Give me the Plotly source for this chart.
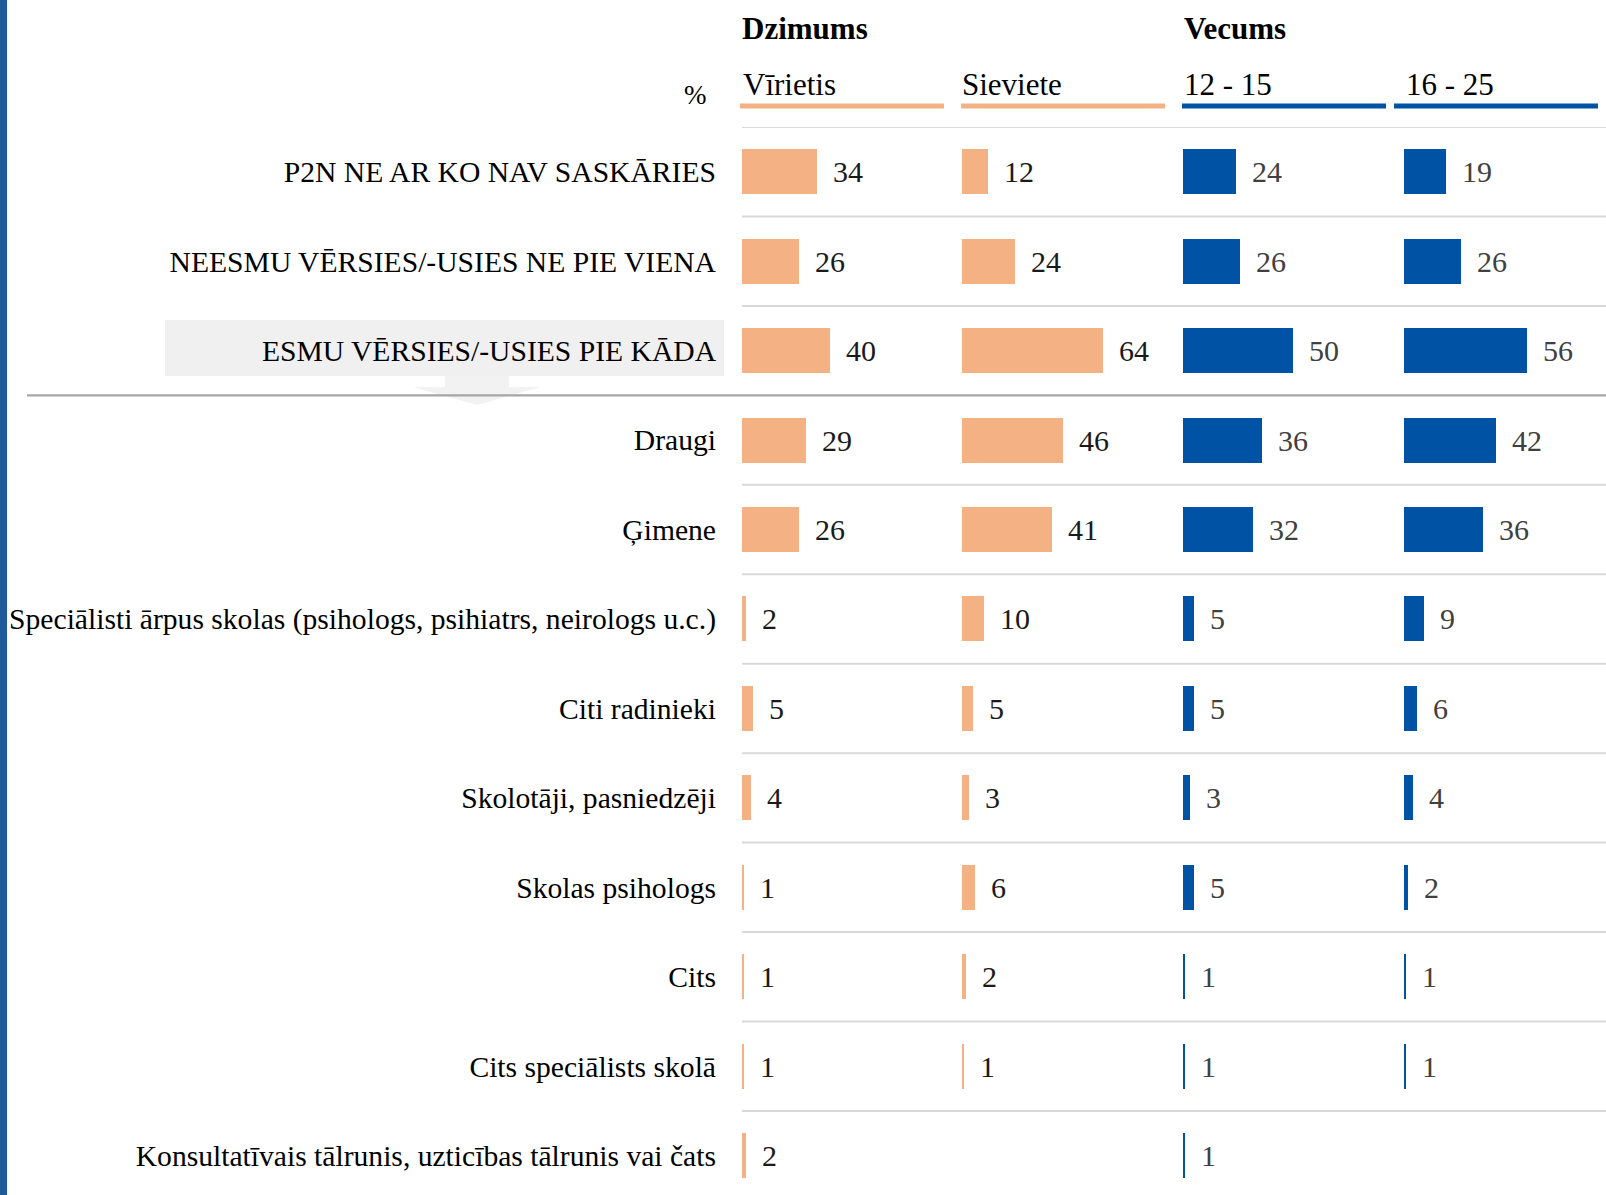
import plotly.graph_objects as go

# ---------------- data ----------------
categories = [
    "P2N NE AR KO NAV SASKĀRIES",
    "NEESMU VĒRSIES/-USIES NE PIE VIENA",
    "ESMU VĒRSIES/-USIES PIE KĀDA",
    "Draugi",
    "Ģimene",
    "Speciālisti ārpus skolas (psihologs, psihiatrs, neirologs u.c.)",
    "Citi radinieki",
    "Skolotāji, pasniedzēji",
    "Skolas psihologs",
    "Cits",
    "Cits speciālists skolā",
    "Konsultatīvais tālrunis, uzticības tālrunis vai čats",
]
virietis = [34, 26, 40, 29, 26, 2, 5, 4, 1, 1, 1, 2]
sieviete = [12, 24, 64, 46, 41, 10, 5, 3, 6, 2, 1, None]
vecums_12_15 = [24, 26, 50, 36, 32, 5, 5, 3, 5, 1, 1, 1]
vecums_16_25 = [19, 26, 56, 42, 36, 9, 6, 4, 2, 1, 1, None]

series_names = ["Vīrietis", "Sieviete", "12 - 15", "16 - 25"]
group_names = ["Dzimums", "Vecums"]
unit_label = "%"

# ---------------- style ----------------
W, H = 1606, 1195
FONT = "Liberation Serif"
ORANGE = "#F4B183"
BLUE = "#0052A5"
col_start_px = [742, 962, 1183, 1404]
PX_PER_UNIT = 2.2
TOP_PX = 127          # top grid line
ROW_PX = 89.45        # row pitch
n = len(categories)

def px_x(p):
    return p / W

def px_y(p):
    return 1 - p / H

series = [virietis, sieviete, vecums_12_15, vecums_16_25]
colors = [ORANGE, ORANGE, BLUE, BLUE]
label_colors = ["#1a1a1a", "#1a1a1a", "#404040", "#404040"]

fig = go.Figure()

y_bottom = -0.5 + (H - TOP_PX) / ROW_PX
y_domain_top = 1 - TOP_PX / H

annotations = []
for k, (vals, col) in enumerate(zip(series, colors)):
    xa = "x" if k == 0 else f"x{k+1}"
    start = col_start_px[k]
    width_px = (col_start_px[k + 1] - start) if k < 3 else (W - start)
    fig.add_trace(go.Bar(
        x=vals, y=categories, orientation="h",
        marker=dict(color=col, line=dict(width=0)),
        width=45 / ROW_PX,
        xaxis=xa, yaxis="y", hoverinfo="skip", showlegend=False,
    ))
    axis_key = "xaxis" if k == 0 else f"xaxis{k+1}"
    fig.update_layout({axis_key: dict(
        domain=[px_x(start), px_x(start + width_px) if k < 3 else 1.0],
        range=[0, width_px / PX_PER_UNIT],
        visible=False, fixedrange=True,
        anchor="y",
    )})
    for c, v in zip(categories, vals):
        if v is None:
            continue
        annotations.append(dict(
            x=v, y=c, xref=xa, yref="y", text=str(v),
            xanchor="left", yanchor="middle", xshift=14, showarrow=False,
            font=dict(family=FONT, size=30, color=label_colors[k]),
        ))

fig.update_layout(
    yaxis=dict(
        domain=[0, y_domain_top],
        categoryorder="array", categoryarray=categories,
        range=[y_bottom, -0.5],
        showgrid=False, zeroline=False, showline=False, ticks="",
        ticklabelstandoff=25,
        tickfont=dict(family=FONT, size=29.6, color="#000000"),
        anchor="x", fixedrange=True,
    ),
)

shapes = []
# left blue stripe
shapes.append(dict(type="rect", xref="paper", yref="paper",
                   x0=0, x1=px_x(7), y0=0, y1=1,
                   fillcolor="#1F5A9A", line=dict(width=0), layer="below"))
# highlight box behind ESMU label
shapes.append(dict(type="rect", xref="paper", yref="paper",
                   x0=px_x(165), x1=px_x(724), y0=px_y(376), y1=px_y(320),
                   fillcolor="#F0F0F0", line=dict(width=0), layer="below"))
# arrow below the box
arrow_pts = [(445, 375.5), (509, 375.5), (509, 387), (540, 387), (477, 405),
             (413, 387), (445, 387)]
path = "M " + " L ".join(f"{px_x(x):.5f},{px_y(y):.5f}" for x, y in arrow_pts) + " Z"
shapes.append(dict(type="path", xref="paper", yref="paper", path=path,
                   fillcolor="#F2F2F2", line=dict(width=0), layer="below"))

# row separators
for i in range(-1, n - 1):
    yb = i + 0.5
    if i == 2:
        shapes.append(dict(type="line", xref="paper", yref="y",
                           x0=px_x(27), x1=1, y0=yb, y1=yb,
                           line=dict(color="#A6A6A6", width=2.2), layer="above"))
    else:
        shapes.append(dict(type="line", xref="paper", yref="y",
                           x0=px_x(742), x1=1, y0=yb, y1=yb,
                           line=dict(color="#D9D9D9", width=2), layer="below"))

# header underlines
underline_px = [(740, 944), (961, 1165), (1182, 1386), (1394, 1598)]
for (a, b), col in zip(underline_px, colors):
    shapes.append(dict(type="line", xref="paper", yref="paper",
                       x0=px_x(a), x1=px_x(b), y0=px_y(106), y1=px_y(106),
                       line=dict(color=col, width=5)))

# header texts
header_x = [741, 960, 1182, 1404]
for name, hx in zip(series_names, header_x):
    annotations.append(dict(x=px_x(hx), y=px_y(84), xref="paper", yref="paper",
                            text=name, xanchor="left", yanchor="middle", showarrow=False,
                            font=dict(family=FONT, size=31, color="#000000")))
for name, gx in zip(group_names, [740, 1182]):
    annotations.append(dict(x=px_x(gx), y=px_y(28), xref="paper", yref="paper",
                            text=f"<b>{name}</b>", xanchor="left", yanchor="middle",
                            showarrow=False,
                            font=dict(family=FONT, size=31, color="#000000")))
annotations.append(dict(x=px_x(709), y=px_y(95), xref="paper", yref="paper",
                        text=unit_label, xanchor="right", yanchor="middle", showarrow=False,
                        font=dict(family=FONT, size=27, color="#000000")))

fig.update_layout(
    width=W, height=H,
    margin=dict(l=0, r=0, t=0, b=0),
    paper_bgcolor="white", plot_bgcolor="rgba(0,0,0,0)",
    barmode="overlay", bargap=0,
    shapes=shapes, annotations=annotations,
    showlegend=False,
)

fig.write_html(
    "out.html",
    config={"displayModeBar": False},
    post_script="document.body.style.margin='0';document.body.style.overflow='hidden';",
)
